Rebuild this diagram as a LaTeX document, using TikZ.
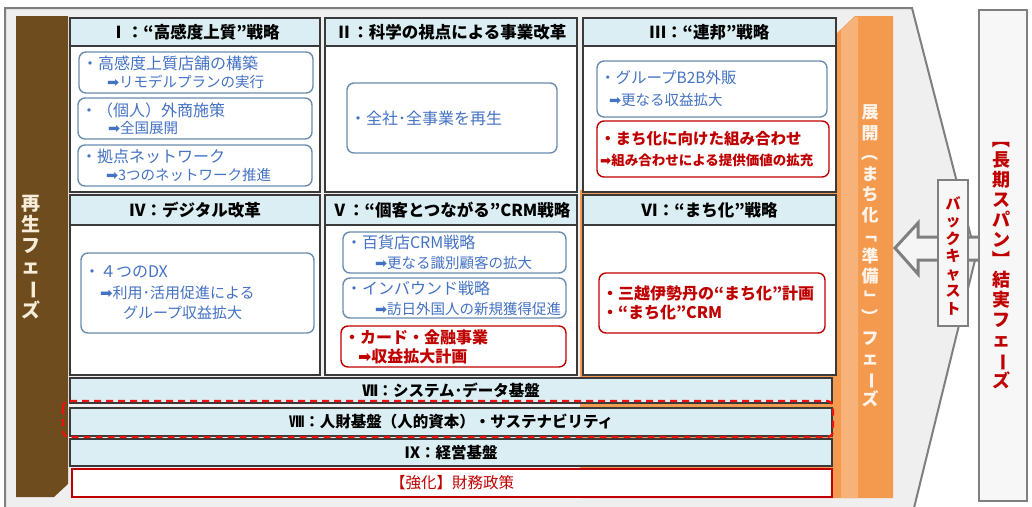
\documentclass[tikz,border=0pt]{standalone}
\usepackage{fontspec}
\usepackage{graphicx}
\setmainfont{Noto Sans CJK JP}
\newfontfamily\dvfont{DejaVu Sans}
\newcommand\myarr{{\dvfont ➡}}
\newcommand\vrot[1]{\rotatebox[origin=c]{-90}{#1}}
\definecolor{secb}{HTML}{3A3A3A}
\definecolor{ttlb}{HTML}{DAEEF3}
\definecolor{bordb}{HTML}{6A8DB0}
\definecolor{txtb}{HTML}{4472C4}
\definecolor{dred}{HTML}{C00000}
\definecolor{brn}{HTML}{6E4C1E}
\definecolor{org}{HTML}{F39A4E}
\definecolor{orgl}{HTML}{F7B27A}
\definecolor{gfill}{HTML}{EFEFEF}
\definecolor{gline}{HTML}{7F7F7F}
\definecolor{cream}{HTML}{F6ECD8}
\definecolor{peach}{HTML}{FFF4EC}
\definecolor{dashr}{HTML}{F01010}
\begin{document}
\begin{tikzpicture}[x=1pt,y=-1pt,
  sec/.style={draw=secb, line width=1.6pt, fill=white, inner sep=0pt},
  ttl/.style={draw=secb, line width=1.2pt, fill=ttlb, inner sep=0pt, font=\bfseries\fontsize{16.5}{18}\selectfont},
  bx/.style={rounded corners=7pt, line width=1.4pt, fill=white, inner xsep=3pt, inner ysep=0pt, align=left},
  bb/.style={bx, draw=bordb, text=txtb},
  rb/.style={bx, draw=dred, text=dred},
  barbox/.style={draw=secb, line width=1.4pt, fill=ttlb, inner sep=0pt, font=\bfseries\fontsize{15.5}{17}\selectfont},
  vtext/.style={align=center, inner sep=0pt},
  graybox/.style={draw=gline, fill=gfill!50!white, inner sep=0pt}
]
\useasboundingbox (0,0) rectangle (1032,506);
\clip (0,0) rectangle (1032,506);
\fill[white] (0,0) rectangle (1032,506);
% outer chevron
\draw[gline, line width=2pt, fill=gfill] (5,8) -- (912,8) -- (976,256) -- (913,512) -- (5,512) -- cycle;
% brown bar
\fill[brn] (16,16) -- (68,16) -- (68,484) -- (54,497) -- (16,497) -- cycle;
% orange bar
\fill[org] (837,33) -- (855,16) -- (893,16) -- (893,498) -- (580,498) -- (580,190) -- (837,190) -- cycle;
\fill[orgl] (841,30) -- (855,17) -- (858,17) -- (858,498) -- (841,498) -- cycle;

% sections
\node[sec, minimum width=250pt, minimum height=174pt] (s1) at (195,105) {};
\node[ttl, minimum width=250pt, minimum height=28pt] (t1) at (195,32) {Ⅰ：“高感度上質”戦略};
\node[sec, minimum width=252pt, minimum height=174pt] (s2) at (451,105) {};
\node[ttl, minimum width=252pt, minimum height=28pt] (t2) at (451,32) {Ⅱ：科学の視点による事業改革};
\node[sec, minimum width=253pt, minimum height=174pt] (s3) at (709.5,105) {};
\node[ttl, minimum width=253pt, minimum height=28pt] (t3) at (709.5,32) {Ⅲ：“連邦”戦略};
\node[sec, minimum width=250pt, minimum height=180pt] (s4) at (195,285) {};
\node[ttl, minimum width=250pt, minimum height=30pt] (t4) at (195,210) {Ⅳ：デジタル改革};
\node[sec, minimum width=252pt, minimum height=180pt] (s5) at (451,285) {};
\node[ttl, minimum width=252pt, minimum height=30pt] (t5) at (451,210) {Ⅴ：“個客とつながる”CRM戦略};
\node[sec, minimum width=253pt, minimum height=180pt] (s6) at (709.5,285) {};
\node[ttl, minimum width=253pt, minimum height=30pt] (t6) at (709.5,210) {Ⅵ：“まち化”戦略};

% inner boxes I
\node[bb, minimum height=41pt, text width=228pt, font=\fontsize{16}{17.5}\selectfont] (b1a) at (196,72.5)
  {・高感度上質店舗の構築\\\hspace*{25pt}{\fontsize{14.5}{17}\selectfont\myarr リモデルプランの実行}};
\node[bb, minimum height=41pt, text width=228pt, font=\fontsize{16}{17.5}\selectfont] (b1b) at (195,118.5)
  {・（個人）外商施策\\\hspace*{27pt}{\fontsize{14.5}{17}\selectfont\myarr 全国展開}};
\node[bb, minimum height=41pt, text width=228pt, font=\fontsize{16}{17.5}\selectfont] (b1c) at (195,165.5)
  {・拠点ネットワーク\\\hspace*{25pt}{\fontsize{14.5}{17}\selectfont\myarr 3つのネットワーク推進}};
% II
\node[bb, minimum height=70pt, text width=204pt, font=\fontsize{16}{18}\selectfont] (b2) at (452,118)
  {・全社･全事業を再生};
% III
\node[bb, minimum height=56pt, text width=224pt, font=\fontsize{15.5}{22}\selectfont] (b3a) at (712,89)
  {・グループB2B外販\\\hspace*{9pt}{\fontsize{14.5}{17}\selectfont\myarr 更なる収益拡大}};
\node[rb, minimum height=56pt, text width=226pt, font=\bfseries\fontsize{15.5}{21}\selectfont] (b3b) at (713,149)
  {・まち化に向けた組み合わせ\\{\fontsize{13.5}{16}\selectfont\myarr 組み合わせによる提供価値の拡充}};
% IV
\node[bb, minimum height=80pt, text width=227pt, font=\fontsize{16}{20.5}\selectfont] (b4) at (197.5,293)
  {・４つのDX\\\hspace*{16pt}{\fontsize{15}{17}\selectfont\myarr 利用･活用促進による}\\\hspace*{39pt}{\fontsize{15}{17}\selectfont グループ収益拡大}};
% V
\node[bb, minimum height=41pt, text width=217pt, font=\fontsize{16}{20}\selectfont] (b5a) at (454.5,252.5)
  {・百貨店CRM戦略\\\hspace*{29pt}{\fontsize{14.5}{17}\selectfont\myarr 更なる識別顧客の拡大}};
\node[bb, minimum height=40pt, text width=217pt, font=\fontsize{16}{20}\selectfont] (b5b) at (454.5,298)
  {・インバウンド戦略\\\hspace*{29pt}{\fontsize{14.5}{17}\selectfont\myarr 訪日外国人の新規獲得促進}};
\node[rb, minimum height=41pt, text width=219pt, font=\bfseries\fontsize{16}{19}\selectfont] (b5c) at (453.5,346.5)
  {・カード・金融事業\\\hspace*{14pt}\myarr 収益拡大計画};
% VI
\node[rb, minimum height=60pt, text width=220pt, font=\bfseries\fontsize{16}{19.5}\selectfont] (b6) at (712,303)
  {・三越伊勢丹の“まち化”計画\\・“まち化”CRM};

% bottom bars
\node[barbox, minimum width=762pt, minimum height=25pt] (r7) at (451,390.5) {Ⅶ：システム･データ基盤};
\node[barbox, minimum width=762pt, minimum height=28pt] (r8) at (451,422) {Ⅷ：人財基盤（人的資本）・サステナビリティ};
\node[barbox, minimum width=762pt, minimum height=27pt] (r9) at (451,452.5) {Ⅸ：経営基盤};
\node[draw=dred, line width=1.4pt, fill=white, text=dred, inner sep=0pt, minimum width=760pt, minimum height=28pt, font=\fontsize{15.5}{17}\selectfont] (fin) at (452,483) {【強化】財務政策};
\draw[dashr, line width=2.2pt, dash pattern=on 7pt off 5pt, rounded corners=6pt] (63,401) rectangle (833,437);

% vertical texts on bars
\node[vtext, text=cream, font=\bfseries\fontsize{19}{21}\selectfont] (regen) at (31,257)
  {再\\生\\フ\\ェ\\\vrot{ー}\\ズ};
\node[vtext, text=peach, font=\bfseries\fontsize{17}{20.5}\selectfont] (tenkai) at (870,256)
  {展\\開\\\vrot{（}\\ま\\ち\\化\\\vrot{「}\\準\\備\\\vrot{」}\\\vrot{）}\\フ\\ェ\\\vrot{ー}\\ズ};

% backcast arrow
\draw[gline, line width=3pt, fill=white!96!black, line join=miter] (895,248) -- (918,223) -- (918,237) -- (981,237) -- (981,260) -- (918,260) -- (918,274) -- cycle;

% right long-span box
\node[graybox, line width=2.5pt, minimum width=48pt, minimum height=491pt] (longbox) at (1003,255.5) {};
\node[vtext, text=dred, font=\bfseries\fontsize{18}{20}\selectfont] (longtxt) at (1001,260)
  {\vrot{【}\\長\\期\\ス\\パ\\ン\\\vrot{】}\\結\\実\\フ\\ェ\\\vrot{ー}\\ズ};
% backcast box
\node[graybox, line width=1.8pt, minimum width=30pt, minimum height=146pt] (bcbox) at (953,253) {};
\node[vtext, text=dred, font=\bfseries\fontsize{15}{17.5}\selectfont] (bctxt) at (953,255.5)
  {バ\\ッ\\ク\\キ\\ャ\\ス\\ト};
\end{tikzpicture}
\end{document}
